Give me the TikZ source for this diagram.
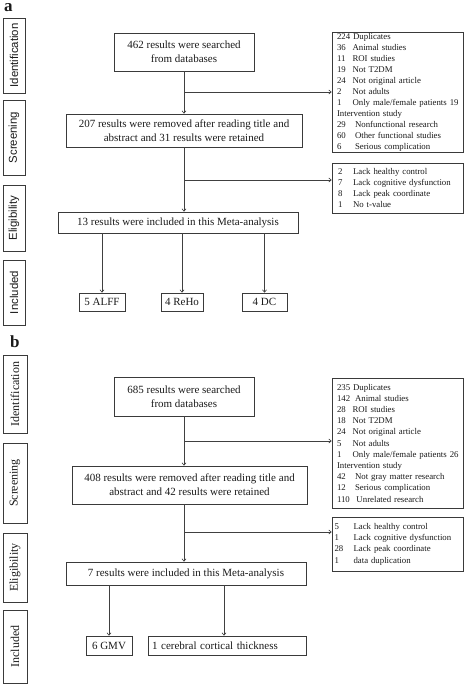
\documentclass[tikz,border=0pt]{standalone}
\usepackage{fontspec}
\setmainfont{Liberation Serif}
\newfontfamily\arialf{Liberation Sans}
\usetikzlibrary{arrows.meta}
\definecolor{boxc}{HTML}{3A3A3A}
\definecolor{linec}{HTML}{404040}
\definecolor{txtc}{HTML}{1A1A1A}
\newcommand{\mainfs}{\fontsize{11}{14}\selectfont}
\newcommand{\rfsa}{\fontsize{8.8}{11}\selectfont}
\newcommand{\rfsb}{\fontsize{8.8}{11.2}\selectfont}
\newcommand{\nc}[3]{\mbox{\makebox[#1][l]{#2}#3}}
\begin{document}
\begin{tikzpicture}[x=1pt,y=-1pt,
  box/.style={draw=boxc, line width=0.9pt, inner sep=0pt, align=center, font=\mainfs, text=txtc},
  rbox/.style={draw=boxc, line width=0.9pt, inner xsep=5pt, inner ysep=0pt, text width=121pt, align=left, text=txtc},
  sidea/.style={draw=boxc, line width=0.9pt, inner sep=0pt, rotate=90, font=\arialf\fontsize{11.4}{13}\selectfont, text=txtc},
  sideb/.style={draw=boxc, line width=0.9pt, inner sep=0pt, rotate=90, font=\fontsize{12}{14}\selectfont, text=txtc},
  arr/.style={-{To[length=3pt,width=4.5pt]}, line width=0.6pt, draw=linec},
  plabel/.style={font=\bfseries\fontsize{17}{17}\selectfont, anchor=base west, inner sep=0pt, text=txtc}
]
\useasboundingbox (0,0) rectangle (465,685);

% ---------------- panel a ----------------
\node[plabel] (la) at (4,12) {a};
\node[sidea, minimum width=75pt, minimum height=22pt] (sa1) at (14,55.5) {Identification};
\node[sidea, minimum width=75pt, minimum height=22pt] (sa2) at (14,137.5) {Screening};
\node[sidea, minimum width=66pt, minimum height=22pt] (sa3) at (14,218) {Eligibility};
\node[sidea, minimum width=65pt, minimum height=22pt] (sa4) at (14,292.5) {Included};

\node[box, minimum width=140pt, minimum height=38pt] (A1) at (184,52) {462 results were searched\\from databases};
\node[box, minimum width=236pt, minimum height=33pt] (A2) at (184,130.5) {207 results were removed after reading title and\\abstract and 31 results were retained};
\node[box, minimum width=240pt, minimum height=21pt] (A3) at (178,222.5) {13 results were included in this Meta-analysis};

\node[rbox, minimum width=131pt, minimum height=120pt, font=\rfsa] (RA1) at (397.5,92.5) {%
\mbox{224 Duplicates}\\
\nc{15.5pt}{36}{Animal studies}\\
\nc{15.5pt}{11}{ROI studies}\\
\nc{15.5pt}{19}{Not T2DM}\\
\nc{15.5pt}{24}{Not original article}\\
\nc{15.5pt}{2}{Not adults}\\
\nc{15.5pt}{1}{Only male/female patients 19}\\
\mbox{Intervention study}\\
\nc{18pt}{29}{Nonfunctional research}\\
\nc{18pt}{60}{Other functional studies}\\
\nc{18pt}{6}{Serious complication}};

\node[rbox, minimum width=131pt, minimum height=50pt, font=\rfsa, inner xsep=6pt, text width=119pt] (RA2) at (397.5,188) {%
\nc{15pt}{2}{Lack healthy control}\\
\nc{15pt}{7}{Lack cognitive dysfunction}\\
\nc{15pt}{8}{Lack peak coordinate}\\
\nc{15pt}{1}{No t-value}};

\node[box, minimum width=46pt, minimum height=18pt] (AL1) at (102,302) {5 ALFF};
\node[box, minimum width=42pt, minimum height=18pt] (AL2) at (182,302) {4 ReHo};
\node[box, minimum width=45pt, minimum height=18pt] (AL3) at (264.5,302) {4 DC};

\draw[arr] (A1.south) -- (A1.south |- A2.north);
\coordinate (ja) at (184,92);
\draw[arr] (ja) -- (ja -| RA1.west);
\draw[arr] (A2.south) -- (A2.south |- A3.north);
\coordinate (jb) at (184,180);
\draw[arr] (jb) -- (jb -| RA2.west);
\draw[arr] (A3.south -| AL1.north) -- (AL1.north);
\draw[arr] (A3.south -| AL2.north) -- (AL2.north);
\draw[arr] (A3.south -| AL3.north) -- (AL3.north);

% ---------------- panel b ----------------
\node[plabel] (lb) at (10,347) {b};
\node[sideb, minimum width=78pt, minimum height=24pt] (sb1) at (15,394) {Identification};
\node[sideb, minimum width=80pt, minimum height=24pt] (sb2) at (15,483) {Screening};
\node[sideb, minimum width=69pt, minimum height=24pt] (sb3) at (15,567.5) {Eligibility};
\node[sideb, minimum width=73pt, minimum height=24pt] (sb4) at (15,646.5) {Included};

\node[box, minimum width=140pt, minimum height=39pt] (B1) at (184,396.5) {685 results were searched\\from databases};
\node[box, minimum width=235pt, minimum height=38pt] (B2) at (189.5,485) {408 results were removed after reading title and\\abstract and 42 results were retained};
\node[box, minimum width=240pt, minimum height=23pt] (B3) at (186,573.5) {7 results were included in this Meta-analysis};

\node[rbox, minimum width=131pt, minimum height=130pt, font=\rfsb] (RB1) at (397.5,443) {%
\mbox{235 Duplicates}\\
\nc{18pt}{142}{Animal studies}\\
\nc{15.5pt}{28}{ROI studies}\\
\nc{15.5pt}{18}{Not T2DM}\\
\nc{15.5pt}{24}{Not original article}\\
\nc{15.5pt}{5}{Not adults}\\
\nc{15.5pt}{1}{Only male/female patients 26}\\
\mbox{Intervention study}\\
\nc{18pt}{42}{Not gray matter research}\\
\nc{18pt}{12}{Serious complication}\\
\nc{19.5pt}{110}{Unrelated research}};

\node[rbox, minimum width=131pt, minimum height=54pt, font=\fontsize{8.8}{11.4}\selectfont, inner xsep=2.5pt, text width=126pt] (RB2) at (397.5,544) {%
\nc{19pt}{5}{Lack healthy control}\\
\nc{19pt}{1}{Lack cognitive dysfunction}\\
\nc{19pt}{28}{Lack peak coordinate}\\
\nc{19pt}{1}{data duplication}};

\node[box, minimum width=46pt, minimum height=19pt] (BL1) at (109,645.5) {6 GMV};
\node[box, minimum width=158pt, minimum height=19pt, text width=150pt, align=left, inner xsep=4pt] (BL2) at (227,645.5) {1 cerebral cortical thickness};

\draw[arr] (B1.south) -- (B1.south |- B2.north);
\coordinate (jc) at (184,441);
\draw[arr] (jc) -- (jc -| RB1.west);
\draw[arr] (B2.south -| B1.south) -- (B1.south |- B3.north);
\coordinate (jd) at (184,532);
\draw[arr] (jd) -- (jd -| RB2.west);
\coordinate (ke) at (224,0);
\draw[arr] (B3.south -| BL1.north) -- (BL1.north);
\draw[arr] (B3.south -| ke) -- (BL2.north -| ke);
\end{tikzpicture}
\end{document}
